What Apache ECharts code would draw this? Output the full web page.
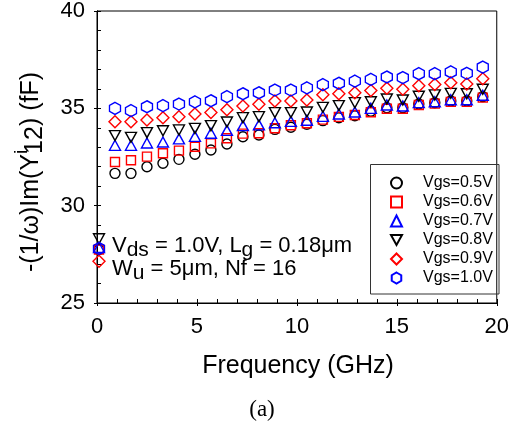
<!DOCTYPE html>
<html>
<head>
<meta charset="utf-8">
<script src="https://cdn.jsdelivr.net/npm/echarts@6/dist/echarts.min.js"></script>
<style>
  html, body { margin: 0; padding: 0; background: #fff; }
  #chart { width: 512px; height: 426px; }
</style>
</head>
<body>
<div id="chart"></div>
<script>
// Frequency sweep points (GHz)
const freq = [0.1, 0.9, 1.7, 2.5, 3.3, 4.1, 4.9, 5.7, 6.5, 7.3, 8.1, 8.9, 9.7,
              10.5, 11.3, 12.1, 12.9, 13.7, 14.5, 15.3, 16.1, 16.9, 17.7, 18.5, 19.3];

// -(1/w)Im(Y12) in fF for each gate bias
const vgs05 = [27.75, 31.66, 31.66, 32.00, 32.18, 32.38, 32.64, 32.86, 33.17, 33.54, 33.63, 33.92, 34.03,
               34.18, 34.37, 34.52, 34.62, 34.85, 35.03, 35.03, 35.22, 35.29, 35.38, 35.38, 35.60];
const vgs06 = [27.75, 32.24, 32.33, 32.52, 32.69, 32.83, 33.03, 33.20, 33.46, 33.70, 33.72, 33.98, 34.13,
               34.23, 34.42, 34.56, 34.66, 34.80, 34.98, 34.98, 35.17, 35.24, 35.33, 35.33, 35.55];
const vgs07 = [27.85, 33.10, 33.10, 33.22, 33.27, 33.43, 33.56, 33.72, 33.87, 34.11, 34.15, 34.26, 34.33,
               34.39, 34.59, 34.71, 34.81, 35.00, 35.17, 35.12, 35.29, 35.34, 35.44, 35.44, 35.67];
const vgs08 = [28.30, 33.60, 33.51, 33.75, 33.85, 33.89, 33.97, 34.11, 34.30, 34.52, 34.57, 34.78, 34.78,
               34.81, 35.05, 35.14, 35.29, 35.34, 35.48, 35.43, 35.62, 35.69, 35.77, 35.75, 35.98];
const vgs09 = [27.15, 34.31, 34.31, 34.40, 34.52, 34.57, 34.71, 34.78, 34.93, 35.12, 35.21, 35.38, 35.38,
               35.43, 35.70, 35.75, 35.80, 35.91, 36.03, 35.98, 36.16, 36.22, 36.32, 36.25, 36.52];
const vgs10 = [27.80, 35.00, 34.88, 35.08, 35.14, 35.22, 35.33, 35.39, 35.60, 35.75, 35.80, 35.94, 35.94,
               36.05, 36.22, 36.29, 36.40, 36.49, 36.61, 36.58, 36.78, 36.78, 36.87, 36.80, 37.12];

const seriesNames = ['Vgs=0.5V', 'Vgs=0.6V', 'Vgs=0.7V', 'Vgs=0.8V', 'Vgs=0.9V', 'Vgs=1.0V'];
const seriesValues = [vgs05, vgs06, vgs07, vgs08, vgs09, vgs10];

const xTicks = { min: 0, max: 20, interval: 5 };
const yTicks = { min: 25, max: 40, interval: 5 };

const FONT = '"Liberation Sans", Arial, Helvetica, sans-serif';

const markers = [
  { symbol: 'circle', size: 10, color: '#000000' },
  { symbol: 'rect', size: 9, color: '#ff0000' },
  { symbol: 'triangle', size: [11, 10], color: '#0000ff' },
  { symbol: 'path://M0,0 L2,0 L1,1.8 Z', size: [11, 10], color: '#000000' },
  { symbol: 'diamond', size: [12, 12], color: '#ff0000' },
  { symbol: 'path://M0.866,0 L1.732,0.5 L1.732,1.5 L0.866,2 L0,1.5 L0,0.5 Z', size: [11, 12], color: '#0000ff' }
];

const series = seriesNames.map((name, i) => ({
  name: name,
  type: 'scatter',
  xAxisIndex: 0,
  yAxisIndex: 0,
  data: freq.map((f, k) => [f, seriesValues[i][k]]),
  symbol: markers[i].symbol,
  symbolSize: markers[i].size,
  itemStyle: {
    color: 'rgba(255,255,255,0)',
    borderColor: markers[i].color,
    borderWidth: 1.4,
    opacity: 1
  },
  emphasis: { disabled: true },
  silent: true,
  z: 3 + i
}));

const grid = { left: 97, right: 13, top: 11, bottom: 123, show: true, borderColor: '#000', borderWidth: 1, backgroundColor: 'transparent' };

const baseX = {
  type: 'value', min: xTicks.min, max: xTicks.max, interval: xTicks.interval,
  position: 'bottom', splitLine: { show: false },
  axisLine: { show: true, lineStyle: { color: '#000', width: 1 } }
};
const baseY = {
  type: 'value', min: yTicks.min, max: yTicks.max, interval: yTicks.interval,
  position: 'left', splitLine: { show: false },
  axisLine: { show: true, lineStyle: { color: '#000', width: 1 } }
};

// Text with sub/superscripts: segments share a baseline (group y = 0),
// each shifted by dy; a stacked segment does not advance the pen.
const measureCtx = document.createElement('canvas').getContext('2d');
function textWidth(t, size) {
  measureCtx.font = size + 'px ' + FONT;
  return measureCtx.measureText(t).width;
}
const BASELINE_FROM_TOP = 0.85; // baseline offset of a top-aligned line, in em
function scriptText(segs, opts) {
  const total = segs.reduce((w, s) => w + (s.stack ? 0 : textWidth(s.t, s.size)), 0);
  let pen = opts.center ? -total / 2 : 0;
  const children = segs.map(s => {
    const el = {
      type: 'text', silent: true, x: pen, y: (s.dy || 0) - BASELINE_FROM_TOP * s.size,
      style: { text: s.t, font: s.size + 'px ' + FONT, fill: '#000', align: 'left', verticalAlign: 'top' }
    };
    if (!s.stack) pen += textWidth(s.t, s.size);
    return el;
  });
  return { type: 'group', x: opts.x, y: opts.y, rotation: opts.rotation || 0, z: 10, silent: true, children: children };
}

const chart = echarts.init(document.getElementById('chart'), null, { renderer: 'canvas' });

chart.setOption({
  animation: false,
  backgroundColor: '#fff',
  grid: grid,
  xAxis: [
    Object.assign({}, baseX, {
      axisTick: { show: true, inside: false, length: 3, lineStyle: { color: '#000' } },
      minorTick: { show: false },
      axisLabel: { show: true, margin: 13, color: '#000', fontSize: 22, fontFamily: FONT }
    }),
    Object.assign({}, baseX, {
      axisTick: { show: true, inside: true, length: 4, lineStyle: { color: '#000' } },
      minorTick: { show: true, splitNumber: 5, length: 4, lineStyle: { color: '#000' } },
      axisLabel: { show: false }
    })
  ],
  yAxis: [
    Object.assign({}, baseY, {
      axisTick: { show: true, inside: false, length: 3, lineStyle: { color: '#000' } },
      minorTick: { show: false },
      axisLabel: { show: true, margin: 12, color: '#000', fontSize: 22, fontFamily: FONT }
    }),
    Object.assign({}, baseY, {
      axisTick: { show: true, inside: true, length: 4, lineStyle: { color: '#000' } },
      minorTick: { show: true, splitNumber: 5, length: 4, lineStyle: { color: '#000' } },
      axisLabel: { show: false }
    })
  ],
  legend: {
    data: seriesNames,
    orient: 'vertical',
    left: 390,
    top: 175,
    itemWidth: 11,
    itemHeight: 11,
    itemGap: 3,
    padding: 0,
    selectedMode: false,
    textStyle: { color: '#000', fontSize: 16, fontFamily: FONT, lineHeight: 16, padding: [0, 0, 0, 16] }
  },
  graphic: [
    {
      type: 'rect', z: 10, silent: true,
      shape: { x: 370.5, y: 164.5, width: 128.5, height: 129.5 },
      style: { fill: 'none', stroke: '#333', lineWidth: 1 }
    },
    {
      type: 'text', z: 10, silent: true, x: 298, y: 366,
      style: { text: 'Frequency (GHz)', fill: '#000', font: '25px ' + FONT, align: 'center', verticalAlign: 'middle' }
    },
    scriptText([
      { t: '-(1/ω)Im(Y', size: 25 },
      { t: 'i', size: 19, dy: -12, stack: true },
      { t: '12', size: 25, dy: 4 },
      { t: ') (fF)', size: 25 }
    ], { x: 40, y: 172, rotation: Math.PI / 2, center: true }),
    scriptText([
      { t: 'V', size: 22 }, { t: 'ds', size: 21, dy: 4 },
      { t: ' = 1.0V, L', size: 22 }, { t: 'g', size: 21, dy: 4 },
      { t: ' = 0.18μm', size: 22 }
    ], { x: 112, y: 254 }),
    scriptText([
      { t: 'W', size: 22 }, { t: 'u', size: 21, dy: 4 },
      { t: ' = 5μm, Nf = 16', size: 22 }
    ], { x: 112, y: 277 }),
    {
      type: 'text', z: 10, silent: true, x: 262, y: 410,
      style: { text: '(a)', fill: '#000', font: '23px "Liberation Serif", "Times New Roman", serif', align: 'center', verticalAlign: 'middle' }
    }
  ],
  series: series
});
</script>
</body>
</html>
